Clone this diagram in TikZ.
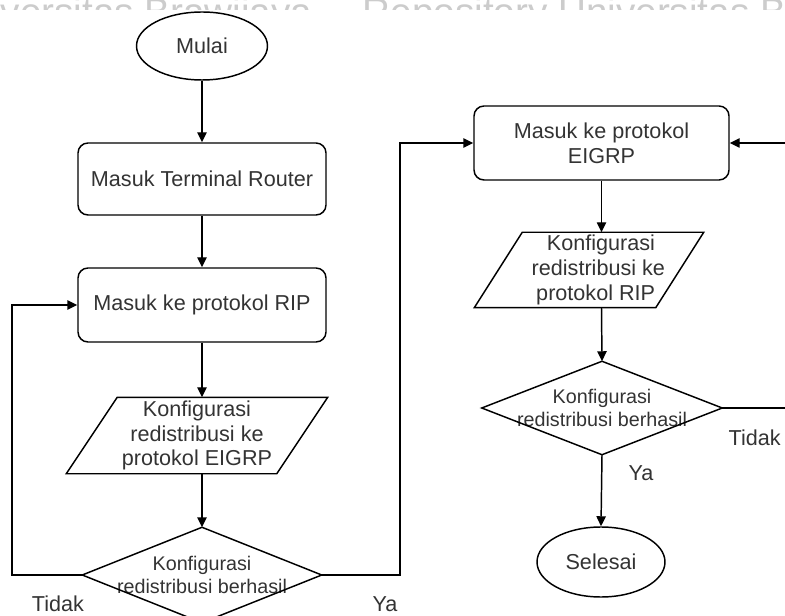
\documentclass[tikz,border=0pt]{standalone}
\usepackage{fontspec}
\setmainfont{Liberation Sans}
\usetikzlibrary{shapes.geometric,arrows.meta}
\begin{document}
\begin{tikzpicture}[x=0.75pt,y=-0.75pt,
  line width=1.1pt,
  txt/.style={text=black!80, font=\fontsize{16.2}{18.6}\selectfont, align=center},
  dtxt/.style={text=black!80, font=\fontsize{14.8}{17.5}\selectfont, align=center},
  terminal/.style={ellipse, draw, txt, inner sep=0pt},
  procbox/.style={rectangle, draw, rounded corners=7.5pt, txt, inner sep=0pt},
  iobox/.style={rectangle, txt, inner sep=0pt},
  decbox/.style={rectangle, dtxt, inner sep=0pt},
  lbl/.style={text=black!80, font=\fontsize{16.2}{18.6}\selectfont, inner sep=0pt},
  arr/.style={-{Triangle[length=7.5pt,width=7pt]}},
  wmark/.style={text=black!20, font=\fontsize{29}{34}\selectfont, inner sep=0pt, anchor=base west}
]
\useasboundingbox (0,0) rectangle (785,616);
\clip (0,0) rectangle (785,616);

% faint repository watermark, mostly hidden behind the chart area
\begin{scope}
  \clip (0,0) rectangle (785,10);
  \node[wmark] (wm1) at (-58,26) {Universitas Brawijaya};
  \node[wmark] (wm2) at (362,26) {Repository Universitas Brawijaya};
\end{scope}

% left column
\node[terminal, minimum width=98.25pt, minimum height=51pt] (start) at (202,46) {Mulai};
\node[procbox, minimum width=186pt, minimum height=54pt] (term) at (202,179) {Masuk Terminal Router};
\node[procbox, minimum width=186pt, minimum height=55.5pt] (rip) at (202,305) {Masuk ke protokol RIP};
\node[iobox, minimum width=195pt, minimum height=56.25pt] (par1) at (197,435.5)
  {Konfigurasi\\redistribusi ke\\protokol EIGRP};
\draw ([xshift=38.25pt]par1.north west) -- (par1.north east)
  -- ([xshift=-38.25pt]par1.south east) -- (par1.south west) -- cycle;
\node[decbox, minimum width=178.5pt, minimum height=70.5pt] (dec1) at (202,575)
  {Konfigurasi\\redistribusi berhasil};
\draw (dec1.north) -- (dec1.east) -- (dec1.south) -- (dec1.west) -- cycle;

% right column
\node[procbox, minimum width=191.25pt, minimum height=55.5pt] (eigrp) at (601.5,143)
  {Masuk ke protokol\\EIGRP};
\node[iobox, minimum width=171pt, minimum height=55.5pt] (par2) at (589,270)
  {\hspace*{18pt}Konfigurasi\\\hspace*{14pt}redistribusi ke\\\hspace*{10pt}protokol RIP};
\draw ([xshift=36pt]par2.north west) -- (par2.north east)
  -- ([xshift=-36pt]par2.south east) -- (par2.south west) -- cycle;
\node[decbox, minimum width=179.25pt, minimum height=69pt] (dec2) at (602,408)
  {Konfigurasi\\redistribusi berhasil};
\draw (dec2.north) -- (dec2.east) -- (dec2.south) -- (dec2.west) -- cycle;
\node[terminal, minimum width=96pt, minimum height=52.5pt] (stop) at (601,562) {Selesai};

% branch labels
\node[lbl] (tidak1) at (58,604) {Tidak};
\node[lbl] (ya1) at (385,604) {Ya};
\node[lbl, anchor=west] (tidak2) at (728,438) {Tidak};
\node[lbl] (ya2) at (641,473) {Ya};

% loose ends of the loop lines
\coordinate (lbus) at (12,0);
\coordinate (mbus) at (400,0);
\coordinate (redge) at (786,0);

% connectors
\draw[arr] (start.south) -- (term.north);
\draw[arr] (term.south) -- (rip.north);
\draw[arr] (rip.south) -- (rip.south |- par1.north);
\draw[arr] (rip.south |- par1.south) -- (dec1.north);
\draw[arr] (dec1.west) -- (dec1.west -| lbus) |- (rip.west);
\draw[arr] (dec1.east) -- (dec1.east -| mbus) |- (eigrp.west);
\draw[arr] (eigrp.south) -- (eigrp.south |- par2.north);
\draw[arr] (eigrp.south |- par2.south) -- (dec2.north);
\draw[arr] (eigrp.east -| redge) -- (eigrp.east);
\draw (dec2.east) -- (dec2.east -| redge);
\draw[arr] (dec2.south) -- (stop.north);
\end{tikzpicture}
\end{document}
